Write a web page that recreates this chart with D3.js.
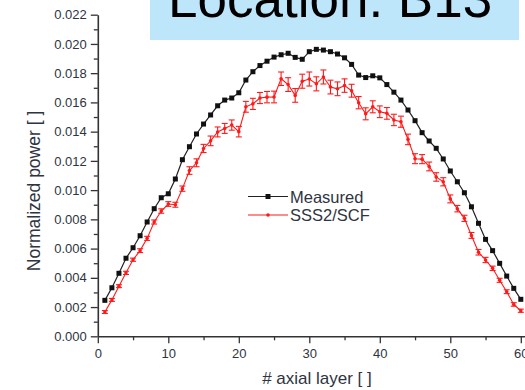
<!DOCTYPE html>
<html>
<head>
<meta charset="utf-8">
<script src="https://cdn.jsdelivr.net/npm/d3@7"></script>
<style>
  html, body { margin: 0; padding: 0; background: #fff; }
  svg { display: block; font-family: "Liberation Sans", Arial, sans-serif; }
</style>
</head>
<body>
<svg id="chart" width="525" height="390"></svg>
<script>
// Axial layer index
const layers = d3.range(1, 61);

// Measured normalized power per axial layer
const measured = [
  0.00246, 0.00332, 0.00431, 0.00534, 0.00606, 0.00688, 0.00782, 0.00873, 0.00948, 0.00975,
  0.01076, 0.01208, 0.01297, 0.01384, 0.01452, 0.01514, 0.01577, 0.01616, 0.01630, 0.01666,
  0.01753, 0.01810, 0.01852, 0.01882, 0.01910, 0.01926, 0.01936, 0.01908, 0.01895, 0.01947,
  0.01963, 0.01958, 0.01947, 0.01931, 0.01905, 0.01860, 0.01787, 0.01770, 0.01782, 0.01768,
  0.01722, 0.01670, 0.01616, 0.01548, 0.01475, 0.01393, 0.01336, 0.01286, 0.01213, 0.01131,
  0.01057, 0.00982, 0.00886, 0.00773, 0.00663, 0.00586, 0.00499, 0.00412, 0.00328, 0.00253
];

// SSS2/SCF calculated normalized power
const sss2 = [
  0.00166, 0.00249, 0.00343, 0.00434, 0.00524, 0.00586, 0.00670, 0.00782, 0.00857, 0.00905,
  0.00900, 0.01010, 0.01134, 0.01187, 0.01285, 0.01337, 0.01398, 0.01422, 0.01445, 0.01400,
  0.01570, 0.01590, 0.01630, 0.01636, 0.01637, 0.01762, 0.01722, 0.01648, 0.01745, 0.01760,
  0.01727, 0.01774, 0.01705, 0.01693, 0.01715, 0.01680, 0.01598, 0.01522, 0.01570, 0.01536,
  0.01525, 0.01480, 0.01468, 0.01347, 0.01215, 0.01212, 0.01162, 0.01090, 0.01057, 0.00940,
  0.00873, 0.00807, 0.00690, 0.00575, 0.00522, 0.00465, 0.00383, 0.00305, 0.00218, 0.00175
];

// SSS2/SCF statistical uncertainty (one sigma)
const sss2Err = [
  0.00010, 0.00010, 0.00010, 0.00011, 0.00011, 0.00013, 0.00014, 0.00014, 0.00015, 0.00016,
  0.00017, 0.00018, 0.00026, 0.00027, 0.00028, 0.00033, 0.00034, 0.00034, 0.00035, 0.00036,
  0.00037, 0.00038, 0.00038, 0.00039, 0.00040, 0.00046, 0.00047, 0.00047, 0.00048, 0.00048,
  0.00048, 0.00048, 0.00047, 0.00047, 0.00046, 0.00044, 0.00042, 0.00041, 0.00041, 0.00040,
  0.00040, 0.00039, 0.00038, 0.00036, 0.00034, 0.00031, 0.00030, 0.00029, 0.00028, 0.00027,
  0.00022, 0.00021, 0.00020, 0.00019, 0.00018, 0.00015, 0.00014, 0.00013, 0.00012, 0.00011
];

const seriesNames = ["Measured", "SSS2/SCF"];
const xTicks = [0, 10, 20, 30, 40, 50, 60];
const yTicks = [0, 0.002, 0.004, 0.006, 0.008, 0.010, 0.012, 0.014, 0.016, 0.018, 0.020, 0.022];
const titleText = "Location: B13";
const xTitle = "# axial layer [ ]";
const yTitle = "Normalized power [ ]";

const svg = d3.select("#chart");

const x = d3.scaleLinear().domain([0, 62]).range([97.8, 97.8 + 62 * 7.05]);
const y = d3.scaleLinear().domain([0, 0.022]).range([336.3, 14.7]);

const axisColor = "#333";
const tickFont = 13;

// minor ticks
const xMinor = d3.range(5, 62, 10);
const yMinor = d3.range(0.001, 0.022, 0.002);

svg.append("g")
  .attr("transform", `translate(0,${y(0)})`)
  .call(d3.axisBottom(x).tickValues(xMinor).tickSize(4).tickFormat(""))
  .call(g => g.select(".domain").remove())
  .selectAll("line").attr("stroke", axisColor).attr("stroke-width", 1.3);

svg.append("g")
  .attr("transform", `translate(${x(0)},0)`)
  .call(d3.axisLeft(y).tickValues(yMinor).tickSize(4).tickFormat(""))
  .call(g => g.select(".domain").remove())
  .selectAll("line").attr("stroke", axisColor).attr("stroke-width", 1.3);

const xAxis = svg.append("g")
  .attr("transform", `translate(0,${y(0)})`)
  .call(d3.axisBottom(x).tickValues(xTicks).tickSize(7).tickSizeOuter(0).tickPadding(5).tickFormat(d3.format("d")));

const yAxis = svg.append("g")
  .attr("transform", `translate(${x(0)},0)`)
  .call(d3.axisLeft(y).tickValues(yTicks).tickSize(7).tickSizeOuter(0).tickPadding(4).tickFormat(d3.format(".3f")));

[xAxis, yAxis].forEach(g => {
  g.select(".domain").attr("stroke", axisColor).attr("stroke-width", 1.6);
  g.selectAll(".tick line").attr("stroke", axisColor).attr("stroke-width", 1.3);
  g.selectAll(".tick text")
    .attr("fill", "#2e3440")
    .style("font-size", tickFont + "px")
    .style("font-family", "'Liberation Sans', Arial, sans-serif");
});

// axis titles
svg.append("text")
  .attr("x", 317).attr("y", 384)
  .attr("text-anchor", "middle")
  .attr("fill", "#2e3440")
  .style("font-size", "17px")
  .text(xTitle);

svg.append("text")
  .attr("transform", `translate(40,${191}) rotate(-90)`)
  .attr("text-anchor", "middle")
  .attr("fill", "#2e3440")
  .style("font-size", "17.5px")
  .text(yTitle);

// measured series
const measPts = layers.map((l, i) => ({ l, v: measured[i] }));
const sssPts = layers.map((l, i) => ({ l, v: sss2[i], e: sss2Err[i] }));

const line = d3.line().x(d => x(d.l)).y(d => y(d.v));

svg.append("path")
  .datum(measPts)
  .attr("fill", "none")
  .attr("stroke", "#222")
  .attr("stroke-width", 1.2)
  .attr("d", line);

// calculated series with error bars
svg.append("path")
  .datum(sssPts)
  .attr("fill", "none")
  .attr("stroke", "#ff1a1a")
  .attr("stroke-width", 1.1)
  .attr("d", line);

const eb = svg.append("g").attr("stroke", "#ff1a1a").attr("stroke-width", 1.1);
sssPts.forEach(d => {
  const cx = x(d.l), y1 = y(d.v + d.e), y2 = y(d.v - d.e);
  eb.append("line").attr("x1", cx).attr("x2", cx).attr("y1", y1).attr("y2", y2);
  eb.append("line").attr("x1", cx - 3).attr("x2", cx + 3).attr("y1", y1).attr("y2", y1);
  eb.append("line").attr("x1", cx - 3).attr("x2", cx + 3).attr("y1", y2).attr("y2", y2);
});

svg.append("g").selectAll("circle")
  .data(sssPts).join("circle")
  .attr("cx", d => x(d.l)).attr("cy", d => y(d.v))
  .attr("r", 1.8).attr("fill", "#ff1a1a");

svg.append("g").selectAll("rect")
  .data(measPts).join("rect")
  .attr("x", d => x(d.l) - 2.5).attr("y", d => y(d.v) - 2.5)
  .attr("width", 5).attr("height", 5)
  .attr("fill", "#111");

// legend
const legend = svg.append("g");
const legY = [196.5, 215];
legend.append("line").attr("x1", 248).attr("x2", 288).attr("y1", legY[0]).attr("y2", legY[0])
  .attr("stroke", "#222").attr("stroke-width", 1.2);
legend.append("rect").attr("x", 265.5).attr("y", legY[0] - 2.5).attr("width", 5).attr("height", 5).attr("fill", "#111");
legend.append("line").attr("x1", 248).attr("x2", 288).attr("y1", legY[1]).attr("y2", legY[1])
  .attr("stroke", "#ff1a1a").attr("stroke-width", 1.1);
legend.append("circle").attr("cx", 268).attr("cy", legY[1]).attr("r", 1.8).attr("fill", "#ff1a1a");
seriesNames.forEach((n, i) => {
  legend.append("text")
    .attr("x", 290).attr("y", legY[i] + 6)
    .attr("fill", "#2e3440")
    .style("font-size", "16.5px")
    .text(n);
});

// location banner
svg.append("rect")
  .attr("x", 150).attr("y", -2).attr("width", 369).attr("height", 42)
  .attr("fill", "#bee6fb");
svg.append("text")
  .attr("x", 168).attr("y", 17)
  .attr("fill", "#000")
  .style("font-size", "53px")
  .text(titleText);
</script>
</body>
</html>
